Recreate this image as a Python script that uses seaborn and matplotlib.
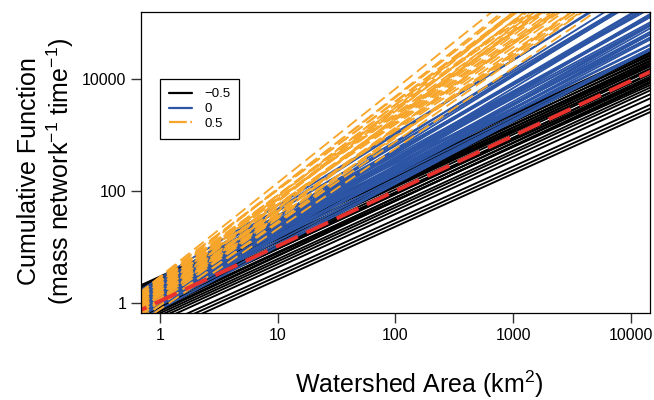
import pandas as pd
import matplotlib
matplotlib.use('Agg')
import matplotlib.pyplot as plt
import seaborn as sns
from matplotlib.lines import Line2D
from matplotlib.ticker import NullLocator

# every curve is straight on log-log axes: value at the two end areas
area_ends = [0.5, 20000]

# exponent -0.5 (black)
black_lo = [1.51, 1.41, 1.32, 1.26, 1.15, 1.07, 1.00, 0.933, 0.871, 0.813, 0.759,
            0.708, 0.661, 0.617, 0.575, 0.794, 1.20, 0.537, 0.501, 0.468, 0.437,
            0.407, 0.380, 0.355, 0.331, 0.302, 0.275, 0.245, 0.200, 0.175, 0.152,
            0.631, 0.447]
black_hi = [41700, 45700, 35500, 39800, 31600, 37200, 28200, 33100, 25100, 29500, 22900,
            26300, 20900, 24000, 19500, 20000, 25700, 16600, 15100, 17400, 13200,
            14100, 11500, 12300, 9550, 8510, 7240, 6100, 4700, 4000, 3470,
            13800, 10500]

# exponent 0 (blue)
blue_lo = [0.355, 0.398, 0.417, 0.447, 0.468, 0.501, 0.525, 0.550, 0.575, 0.603,
           0.631, 0.646, 0.676, 0.692, 0.724, 0.741, 0.776, 0.794, 0.832, 0.851,
           0.891, 0.912, 0.955, 1.000, 1.023, 1.072, 1.096, 1.122, 0.437, 0.562,
           0.759, 0.933, 1.047, 0.380, 0.661, 0.871, 0.513, 0.813, 0.617, 0.977]
blue_hi = [50100, 131800, 47900, 309000, 91200, 46800, 213800, 131800, 549500, 45700,
           100000, 331100, 77600, 186200, 49000, 575400, 138000, 295100, 77600, 186200,
           1175000, 56200, 288400, 128800, 575400, 89100, 263000, 1072000, 117500, 72400,
           346700, 147900, 57500, 213800, 776200, 91200, 91200, 512900, 204200, 190500]

# exponent 0.5 (orange)
orange_lo = [0.282, 0.316, 0.331, 0.355, 0.380, 0.398, 0.417, 0.437, 0.457, 0.479,
             0.501, 0.525, 0.537, 0.562, 0.589, 0.603, 0.631, 0.646, 0.676, 0.692,
             0.724, 0.741, 0.776, 0.794, 0.832, 0.851, 0.891, 0.912, 0.955, 0.501,
             0.363, 0.759, 0.447, 0.871]
orange_hi = [1.17e6, 2.51e6, 1.74e6, 4.79e6, 2.45e6, 9.12e6, 4.07e6, 2.04e6, 7.59e6, 3.80e6,
             1.41e7, 3.02e6, 7.24e6, 2.19e7, 5.75e6, 2.29e6, 1.17e7, 4.57e6, 1.74e7, 8.32e6,
             3.80e6, 3.24e7, 1.17e7, 6.31e6, 2.63e7, 9.33e6, 1.82e7, 4.90e7, 1.58e7, 1.70e6,
             1.15e7, 3.16e6, 2.14e7, 5.62e6]

# mean curve (red)
red_ends = [0.54, 18400]

groups = ['-0.5', '0', '0.5']
labels = ['\u22120.5', '0', '0.5']
colors = {'-0.5': '#000000', '0': '#2c55a5', '0.5': '#f7a62b'}

rows = []
for g, lo, hi in [('-0.5', black_lo, black_hi), ('0', blue_lo, blue_hi), ('0.5', orange_lo, orange_hi)]:
    for i in range(len(lo)):
        rows.append({'area': area_ends[0], 'value': lo[i], 'group': g, 'line': f'{g}_{i}'})
        rows.append({'area': area_ends[1], 'value': hi[i], 'group': g, 'line': f'{g}_{i}'})
df = pd.DataFrame(rows)

sns.set_style('ticks')
plt.rcParams['font.family'] = ['Liberation Sans', 'DejaVu Sans']
plt.rcParams['mathtext.fontset'] = 'custom'
plt.rcParams['mathtext.rm'] = 'Liberation Sans'
plt.rcParams['mathtext.it'] = 'Liberation Sans'
plt.rcParams['text.color'] = 'black'
plt.rcParams['axes.labelcolor'] = 'black'

fig = plt.figure(figsize=(6.54, 4.0), dpi=100)
ax = fig.add_axes([141 / 654, 1 - 313 / 400, 509 / 654, 301.3 / 400])

sns.lineplot(data=df, x='area', y='value', hue='group', hue_order=groups, style='group',
             style_order=groups, units='line', estimator=None, sort=False,
             palette=colors, dashes={'-0.5': '', '0': '', '0.5': (6.5, 3)},
             linewidth=1.35, legend=False, ax=ax)
sns.lineplot(x=area_ends, y=red_ends, color='#e8322d', linewidth=2.8,
             linestyle=(0, (6.2, 2.4)), ax=ax)

ax.set_xscale('log')
ax.set_yscale('log')
ax.set_xlim(0.690, 14560)
ax.set_ylim(0.655, 160700)
ax.set_xticks([1, 10, 100, 1000, 10000])
ax.set_xticklabels(['1', '10', '100', '1000', '10000'])
ax.set_yticks([1, 100, 10000])
ax.set_yticklabels(['1', '100', '10000'])
ax.xaxis.set_minor_locator(NullLocator())
ax.yaxis.set_minor_locator(NullLocator())
ax.tick_params(axis='both', which='major', direction='out', length=7, width=1,
               color='#333333', labelsize=11.5, pad=3.5, labelcolor='black',
               bottom=True, left=True)

for s in ax.spines.values():
    s.set_color('black')
    s.set_linewidth(0.9)

ax.set_xlabel('Watershed Area (km$^{2}$)', fontsize=18, color='black')
ax.xaxis.set_label_coords(0.547, -0.183)
ax.set_ylabel('Cumulative Function\n(mass network$^{-1}$ time$^{-1}$)', fontsize=18,
              linespacing=1.15, color='black')
ax.yaxis.set_label_coords(-0.128, 0.47)

handles = [Line2D([], [], color=colors[g], lw=1.6,
                  ls=(0, (8, 1.6)) if g == '0.5' else '-') for g in groups]
leg = ax.legend(handles, labels, loc='upper left', bbox_to_anchor=(0.037, 0.777),
                borderaxespad=0, fontsize=9.5, frameon=True, fancybox=False,
                labelspacing=0.2, handlelength=1.75, handletextpad=0.9,
                borderpad=0.7)
leg.get_frame().set_edgecolor('black')
leg.get_frame().set_linewidth(0.9)
leg.get_frame().set_alpha(1)

fig.savefig('out.png', dpi=100)
